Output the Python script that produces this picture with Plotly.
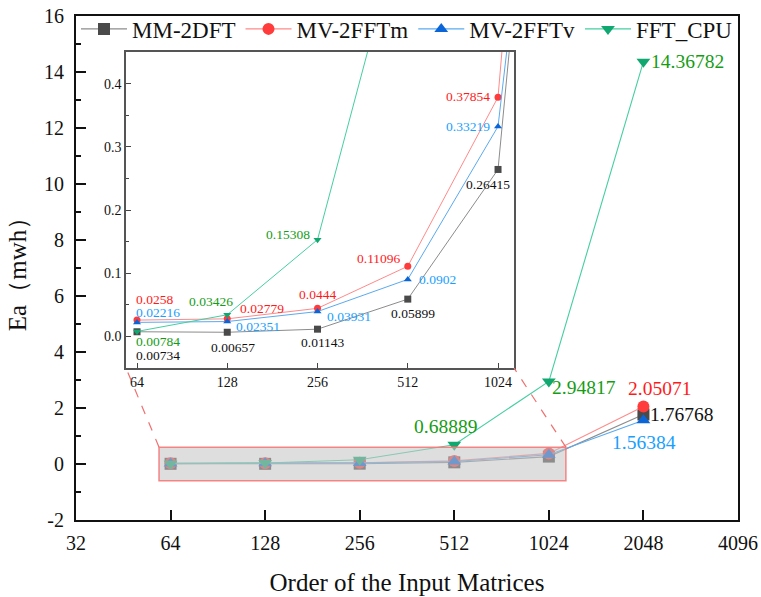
import math
import plotly.graph_objects as go

# ---------------- data ----------------
orders = [64, 128, 256, 512, 1024, 2048]
mm_2dft = [0.00734, 0.00657, 0.01143, 0.05899, 0.26415, 1.76768]
mv_2fftm = [0.0258, 0.02779, 0.0444, 0.11096, 0.37854, 2.05071]
mv_2fftv = [0.02216, 0.02351, 0.03931, 0.0902, 0.33219, 1.56384]
fft_cpu = [0.00784, 0.03426, 0.15308, 0.68889, 2.94817, 14.36782]

series_names = ["MM-2DFT", "MV-2FFTm", "MV-2FFTv", "FFT_CPU"]
main_xticks = [32, 64, 128, 256, 512, 1024, 2048, 4096]
main_yticks = [-2, 0, 2, 4, 6, 8, 10, 12, 14, 16]
inset_xticks = [64, 128, 256, 512, 1024]
inset_yticks = [0.0, 0.1, 0.2, 0.3, 0.4]

# ---------------- styles ----------------
FONT = "Liberation Serif"
series = [mm_2dft, mv_2fftm, mv_2fftv, fft_cpu]
marker_col = ["#4a4a4a", "#ff3b3b", "#0a66d8", "#10a870"]
line_col = ["#8c8c8c", "#ff8a8a", "#5aaaf0", "#45cfa0"]
text_col = ["#111111", "#ff1a1a", "#18a0ff", "#159c15"]
symbols = ["square", "circle", "triangle-up", "triangle-down"]

W, H = 761, 597
L, R, T, B = 76, 23, 16, 77
PW, PH = W - L - R, H - T - B

def px_x(x):
    return (x - L) / PW

def px_y(y):
    return (H - B - y) / PH

fig = go.Figure()

# main traces
for i, (name, ys) in enumerate(zip(series_names, series)):
    fig.add_trace(go.Scatter(
        x=orders, y=ys, name=name, mode="lines+markers",
        line=dict(color=line_col[i], width=1.1),
        marker=dict(symbol=symbols[i], size=12, color=marker_col[i]),
        xaxis="x", yaxis="y", cliponaxis=False,
    ))

# inset traces
for i, (name, ys) in enumerate(zip(series_names, series)):
    fig.add_trace(go.Scatter(
        x=orders, y=ys, name=name, mode="lines+markers", showlegend=False,
        line=dict(color=line_col[i], width=1),
        marker=dict(symbol=symbols[i], size=7, color=marker_col[i]),
        xaxis="x2", yaxis="y2",
    ))

# ---------------- annotations ----------------
def ann(xv, yv, text, color, size, xref, yref, xanchor="center", xshift=0, yshift=0):
    fig.add_annotation(
        x=math.log10(xv), y=yv, xref=xref, yref=yref, text=text, showarrow=False,
        font=dict(family=FONT, size=size, color=color),
        xanchor=xanchor, yanchor="middle", xshift=xshift, yshift=yshift,
    )

# main labels
M = 19.5
ann(2048, fft_cpu[5], "14.36782", text_col[3], M, "x", "y", "left", 6, 0)
ann(1024, fft_cpu[4], "2.94817", text_col[3], M, "x", "y", "left", 1, -6)
ann(512, fft_cpu[3], "0.68889", text_col[3], M, "x", "y", "center", -9, 18)
ann(2048, mv_2fftm[5], "2.05071", text_col[1], M, "x", "y", "center", 16, 18)
ann(2048, mm_2dft[5], "1.76768", text_col[0], M, "x", "y", "left", 5, 0)
ann(2048, mv_2fftv[5], "1.56384", text_col[2], M, "x", "y", "center", 1, -22)

# inset labels
S = 13.5
ann(64, mv_2fftm[0], "0.0258", text_col[1], S, "x2", "y2", "left", -3, 21)
ann(64, mv_2fftv[0], "0.02216", text_col[2], S, "x2", "y2", "left", -3, 10)
ann(64, fft_cpu[0], "0.00784", text_col[3], S, "x2", "y2", "left", -3, -10)
ann(64, mm_2dft[0], "0.00734", text_col[0], S, "x2", "y2", "left", -3, -24)

ann(128, fft_cpu[1], "0.03426", text_col[3], S, "x2", "y2", "center", -16, 13)
ann(128, mv_2fftm[1], "0.02779", text_col[1], S, "x2", "y2", "left", 11, 10)
ann(128, mv_2fftv[1], "0.02351", text_col[2], S, "x2", "y2", "left", 7, -5)
ann(128, mm_2dft[1], "0.00657", text_col[0], S, "x2", "y2", "center", 6, -15)

ann(256, mv_2fftm[2], "0.0444", text_col[1], S, "x2", "y2", "center", 0, 14)
ann(256, mv_2fftv[2], "0.03931", text_col[2], S, "x2", "y2", "left", 7, -5)
ann(256, mm_2dft[2], "0.01143", text_col[0], S, "x2", "y2", "center", 5, -13)
ann(256, fft_cpu[2], "0.15308", text_col[3], S, "x2", "y2", "right", -6, 5)

ann(512, mv_2fftm[3], "0.11096", text_col[1], S, "x2", "y2", "right", -5, 8)
ann(512, mv_2fftv[3], "0.0902", text_col[2], S, "x2", "y2", "left", 9, 0)
ann(512, mm_2dft[3], "0.05899", text_col[0], S, "x2", "y2", "center", 5, -14)

ann(1024, mv_2fftm[4], "0.37854", text_col[1], S, "x2", "y2", "right", -6, 1)
ann(1024, mv_2fftv[4], "0.33219", text_col[2], S, "x2", "y2", "right", -6, 0)
ann(1024, mm_2dft[4], "0.26415", text_col[0], S, "x2", "y2", "center", -10, -15)

# ---------------- zoom box + connectors ----------------
inset_xr = [5.878, 10.177]  # log2 range of inset x axis
inset_yr = [-0.05, 0.45]
main_yr = [-2, 16]
box_x0 = (inset_xr[0] - 5) / 7
box_x1 = (10.18 - 5) / 7
box_y = 0.6

fig.add_shape(type="rect", xref="paper", yref="y", x0=box_x0, x1=box_x1,
              y0=-box_y, y1=box_y, layer="above",
              fillcolor="rgba(195,195,195,0.55)",
              line=dict(color="rgba(245,120,120,0.9)", width=1.5))

inset_dom_x = [px_x(126), px_x(514)]
inset_dom_y = [px_y(368), px_y(52)]
box_top_paper = (box_y - main_yr[0]) / (main_yr[1] - main_yr[0])
for bx, ix in [(box_x0, inset_dom_x[0]), (box_x1, inset_dom_x[1])]:
    fig.add_shape(type="line", xref="paper", yref="paper",
                  x0=bx, y0=box_top_paper, x1=ix, y1=inset_dom_y[0],
                  line=dict(color="#f07070", width=1.2, dash="dash"))

# ---------------- layout ----------------
axis_font = dict(family=FONT, size=20, color="#111")
fig.update_layout(
    width=W, height=H,
    margin=dict(l=L, r=R, t=T, b=B, autoexpand=False),
    paper_bgcolor="white", plot_bgcolor="white",
    font=dict(family=FONT, color="#111"),
    showlegend=True,
    legend=dict(orientation="h", x=0, y=1.017, xanchor="left", yanchor="top",
                font=dict(family=FONT, size=23, color="#111"),
                bgcolor="rgba(0,0,0,0)", itemwidth=46, tracegroupgap=0),
    xaxis=dict(
        type="log", range=[math.log10(32), math.log10(4096)], automargin=False,
        tickvals=main_xticks, ticktext=[str(v) for v in main_xticks],
        ticks="inside", ticklen=10, tickwidth=2, tickcolor="#111",
        showline=True, linecolor="#111", linewidth=2, mirror=True,
        showgrid=False, zeroline=False, tickfont=axis_font, ticklabelstandoff=4,
        title=dict(text="Order of the Input Matrices",
                   font=dict(family=FONT, size=25, color="#111"), standoff=20),
        domain=[0, 1],
    ),
    yaxis=dict(
        range=main_yr, automargin=False,
        tickvals=main_yticks, ticktext=[str(v) for v in main_yticks],
        ticks="inside", ticklen=10, tickwidth=2, tickcolor="#111",
        minor=dict(ticks="inside", ticklen=5, dtick=1, tickwidth=1.5, tickcolor="#111", showgrid=False),
        showline=True, linecolor="#111", linewidth=2, mirror=True,
        showgrid=False, zeroline=False, tickfont=axis_font, ticklabelstandoff=6,
        title=dict(text="Ea（mwh）", font=dict(family=FONT, size=25, color="#111"), standoff=10),
        domain=[0, 1],
    ),
    xaxis2=dict(
        type="log", range=[math.log10(2 ** inset_xr[0]), math.log10(2 ** inset_xr[1])],
        tickvals=inset_xticks, ticktext=[str(v) for v in inset_xticks],
        ticks="inside", ticklen=5, tickwidth=1, tickcolor="#444",
        showline=True, linecolor="#555", linewidth=1.5, mirror=True,
        showgrid=False, zeroline=False, automargin=False,
        tickfont=dict(family=FONT, size=14, color="#111"),
        domain=inset_dom_x, anchor="y2",
    ),
    yaxis2=dict(
        range=inset_yr,
        tickvals=inset_yticks, ticktext=[f"{v:.1f}" for v in inset_yticks],
        ticks="inside", ticklen=5, tickwidth=1, tickcolor="#444",
        minor=dict(ticks="inside", ticklen=3, dtick=0.05, tickwidth=1, tickcolor="#444", showgrid=False),
        showline=True, linecolor="#555", linewidth=1.5, mirror=True,
        showgrid=False, zeroline=False, automargin=False,
        tickfont=dict(family=FONT, size=14, color="#111"),
        domain=inset_dom_y, anchor="x2",
    ),
)

fig.write_html("out.html")
